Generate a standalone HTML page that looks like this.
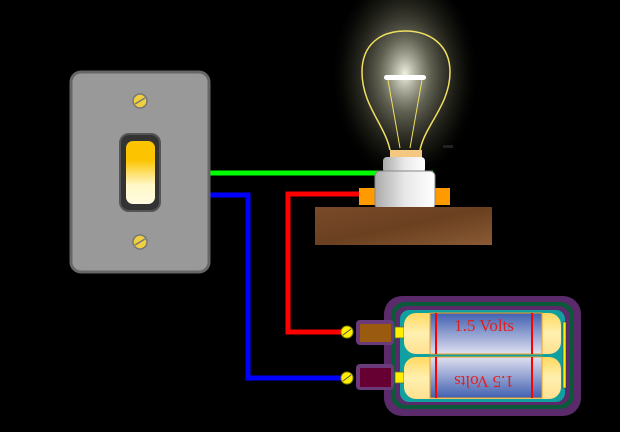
<!DOCTYPE html>
<html><head><style>body{margin:0;background:#000;width:620px;height:427px;overflow:hidden}</style></head>
<body>
<svg width="620" height="427" viewBox="0 0 620 427" xmlns="http://www.w3.org/2000/svg">
<defs>
<radialGradient id="glow" cx="0.5" cy="0.45" r="0.5"><stop offset="0" stop-color="#fffff0" stop-opacity="0.95"/><stop offset="0.35" stop-color="#a0a088" stop-opacity="0.6"/><stop offset="0.75" stop-color="#404030" stop-opacity="0.3"/><stop offset="1" stop-color="#000" stop-opacity="0"/></radialGradient>
<linearGradient id="rock" x1="0" y1="0" x2="0" y2="1"><stop offset="0.3" stop-color="#fcc400"/><stop offset="0.7" stop-color="#fff8c8"/><stop offset="1" stop-color="#fffbe0"/></linearGradient>
<linearGradient id="sock" x1="0" y1="0" x2="1" y2="0"><stop offset="0" stop-color="#aaa"/><stop offset="0.5" stop-color="#e8e8e8"/><stop offset="1" stop-color="#fff"/></linearGradient>
<linearGradient id="wood" x1="0" y1="0" x2="1" y2="1"><stop offset="0" stop-color="#7a4a2a"/><stop offset="0.5" stop-color="#6a4020"/><stop offset="1" stop-color="#8a5a34"/></linearGradient>
<linearGradient id="bat" x1="0" y1="0" x2="0" y2="1"><stop offset="0" stop-color="#ffd860"/><stop offset="0.5" stop-color="#fff0b0"/><stop offset="1" stop-color="#ffe090"/></linearGradient>
<linearGradient id="lab" x1="0" y1="0" x2="0" y2="1"><stop offset="0" stop-color="#4060b0"/><stop offset="1" stop-color="#e0e0f0"/></linearGradient>
<linearGradient id="lab2" x1="0" y1="1" x2="0" y2="0"><stop offset="0" stop-color="#4060b0"/><stop offset="1" stop-color="#e0e0f0"/></linearGradient>
</defs>
<ellipse cx="405" cy="85" rx="75" ry="110" fill="url(#glow)"/>
<polyline points="210,173 433,173 Q437,173 437,178 L437,190" fill="none" stroke="#00ff00" stroke-width="5"/>
<polyline points="376,194 288,194 288,332 350,332" fill="none" stroke="#ff0000" stroke-width="5"/>
<polyline points="210,195 248,195 248,378 350,378" fill="none" stroke="#0000ff" stroke-width="5"/>
<rect x="71" y="72" width="138" height="200" rx="10" fill="#999" stroke="#666" stroke-width="3"/>
<circle cx="140" cy="101" r="7" fill="#f0d040" stroke="#777" stroke-width="1.5"/><line x1="135" y1="104" x2="145" y2="98" stroke="#777" stroke-width="1.5"/>
<circle cx="140" cy="242" r="7" fill="#f0d040" stroke="#777" stroke-width="1.5"/><line x1="135" y1="245" x2="145" y2="239" stroke="#777" stroke-width="1.5"/>
<rect x="120" y="134" width="40" height="77" rx="9" fill="#333" stroke="#555" stroke-width="2"/>
<rect x="126" y="141" width="29" height="63" rx="7" fill="url(#rock)"/>
<path d="M390,150 C385,125 362,105 362,72 C362,45 380,31 405,31 C430,31 450,45 450,72 C450,105 425,125 420,150" fill="none" stroke="#f0e060" stroke-width="1.5"/>
<rect x="384" y="75" width="42" height="5" rx="2.5" fill="#fff"/>
<path d="M388,80 L400,148 M422,80 L410,148" stroke="#f0e060" stroke-width="1" fill="none"/>
<rect x="390" y="150" width="32" height="8" fill="#f4c880"/>
<rect x="383" y="157" width="42" height="16" rx="4" fill="url(#sock)"/>
<rect x="359" y="188" width="18" height="17" fill="#ff9a00"/>
<rect x="434" y="188" width="16" height="17" fill="#ff9a00"/>
<rect x="375" y="171" width="60" height="38" rx="5" fill="url(#sock)" stroke="#888" stroke-width="1"/>
<rect x="315" y="207" width="177" height="38" fill="url(#wood)"/>
<rect x="443" y="145" width="10" height="3" fill="#222"/>
<rect x="384" y="296" width="197" height="120" rx="18" fill="#5a2a6a"/>
<rect x="391" y="302" width="183" height="107" rx="14" fill="#0a5a3a"/>
<rect x="395" y="306" width="175" height="99" rx="12" fill="#5a2a6a"/>
<rect x="400" y="310" width="165" height="92" rx="9" fill="#10a0a0"/>
<rect x="356" y="320" width="38" height="25" rx="4" fill="#6a3a7a"/><rect x="360" y="324" width="31" height="18" fill="#9a5a10"/>
<rect x="356" y="364" width="38" height="26" rx="4" fill="#6a3a7a"/><rect x="360" y="368" width="31" height="19" fill="#660033"/>
<circle cx="347" cy="332" r="6" fill="#ffee00" stroke="#880" stroke-width="1"/><line x1="343" y1="335" x2="351" y2="329" stroke="#554"/>
<circle cx="347" cy="378" r="6" fill="#ffee00" stroke="#880" stroke-width="1"/><line x1="343" y1="381" x2="351" y2="375" stroke="#554"/>
<rect x="395" y="327" width="9" height="11" fill="#ffee00" stroke="#664" stroke-width="0.8"/>
<rect x="395" y="372" width="9" height="11" fill="#ffee00" stroke="#664" stroke-width="0.8"/>
<rect x="404" y="313" width="157" height="41" rx="12" fill="url(#bat)"/>
<rect x="404" y="357" width="157" height="42" rx="12" fill="url(#bat)"/>
<rect x="430" y="313" width="112" height="41" fill="url(#lab)" stroke="#f0a020" stroke-width="1"/>
<rect x="430" y="357" width="112" height="41" fill="url(#lab2)" stroke="#f0a020" stroke-width="1"/>
<line x1="436" y1="313" x2="436" y2="354" stroke="#f00" stroke-width="2"/><line x1="532" y1="313" x2="532" y2="354" stroke="#f00" stroke-width="2"/>
<line x1="436" y1="357" x2="436" y2="398" stroke="#f00" stroke-width="2"/><line x1="532" y1="357" x2="532" y2="398" stroke="#f00" stroke-width="2"/>
<text x="484" y="331" font-family="Liberation Serif, serif" font-size="17" fill="#e02020" text-anchor="middle">1.5 Volts</text>
<text x="484" y="366" font-family="Liberation Serif, serif" font-size="17" fill="#e02020" text-anchor="middle" transform="rotate(180 484 371)">1.5 Volts</text>
<rect x="563" y="322" width="3" height="66" fill="#ffee00" stroke="#333" stroke-width="0.5"/>
</svg>
</body></html>
